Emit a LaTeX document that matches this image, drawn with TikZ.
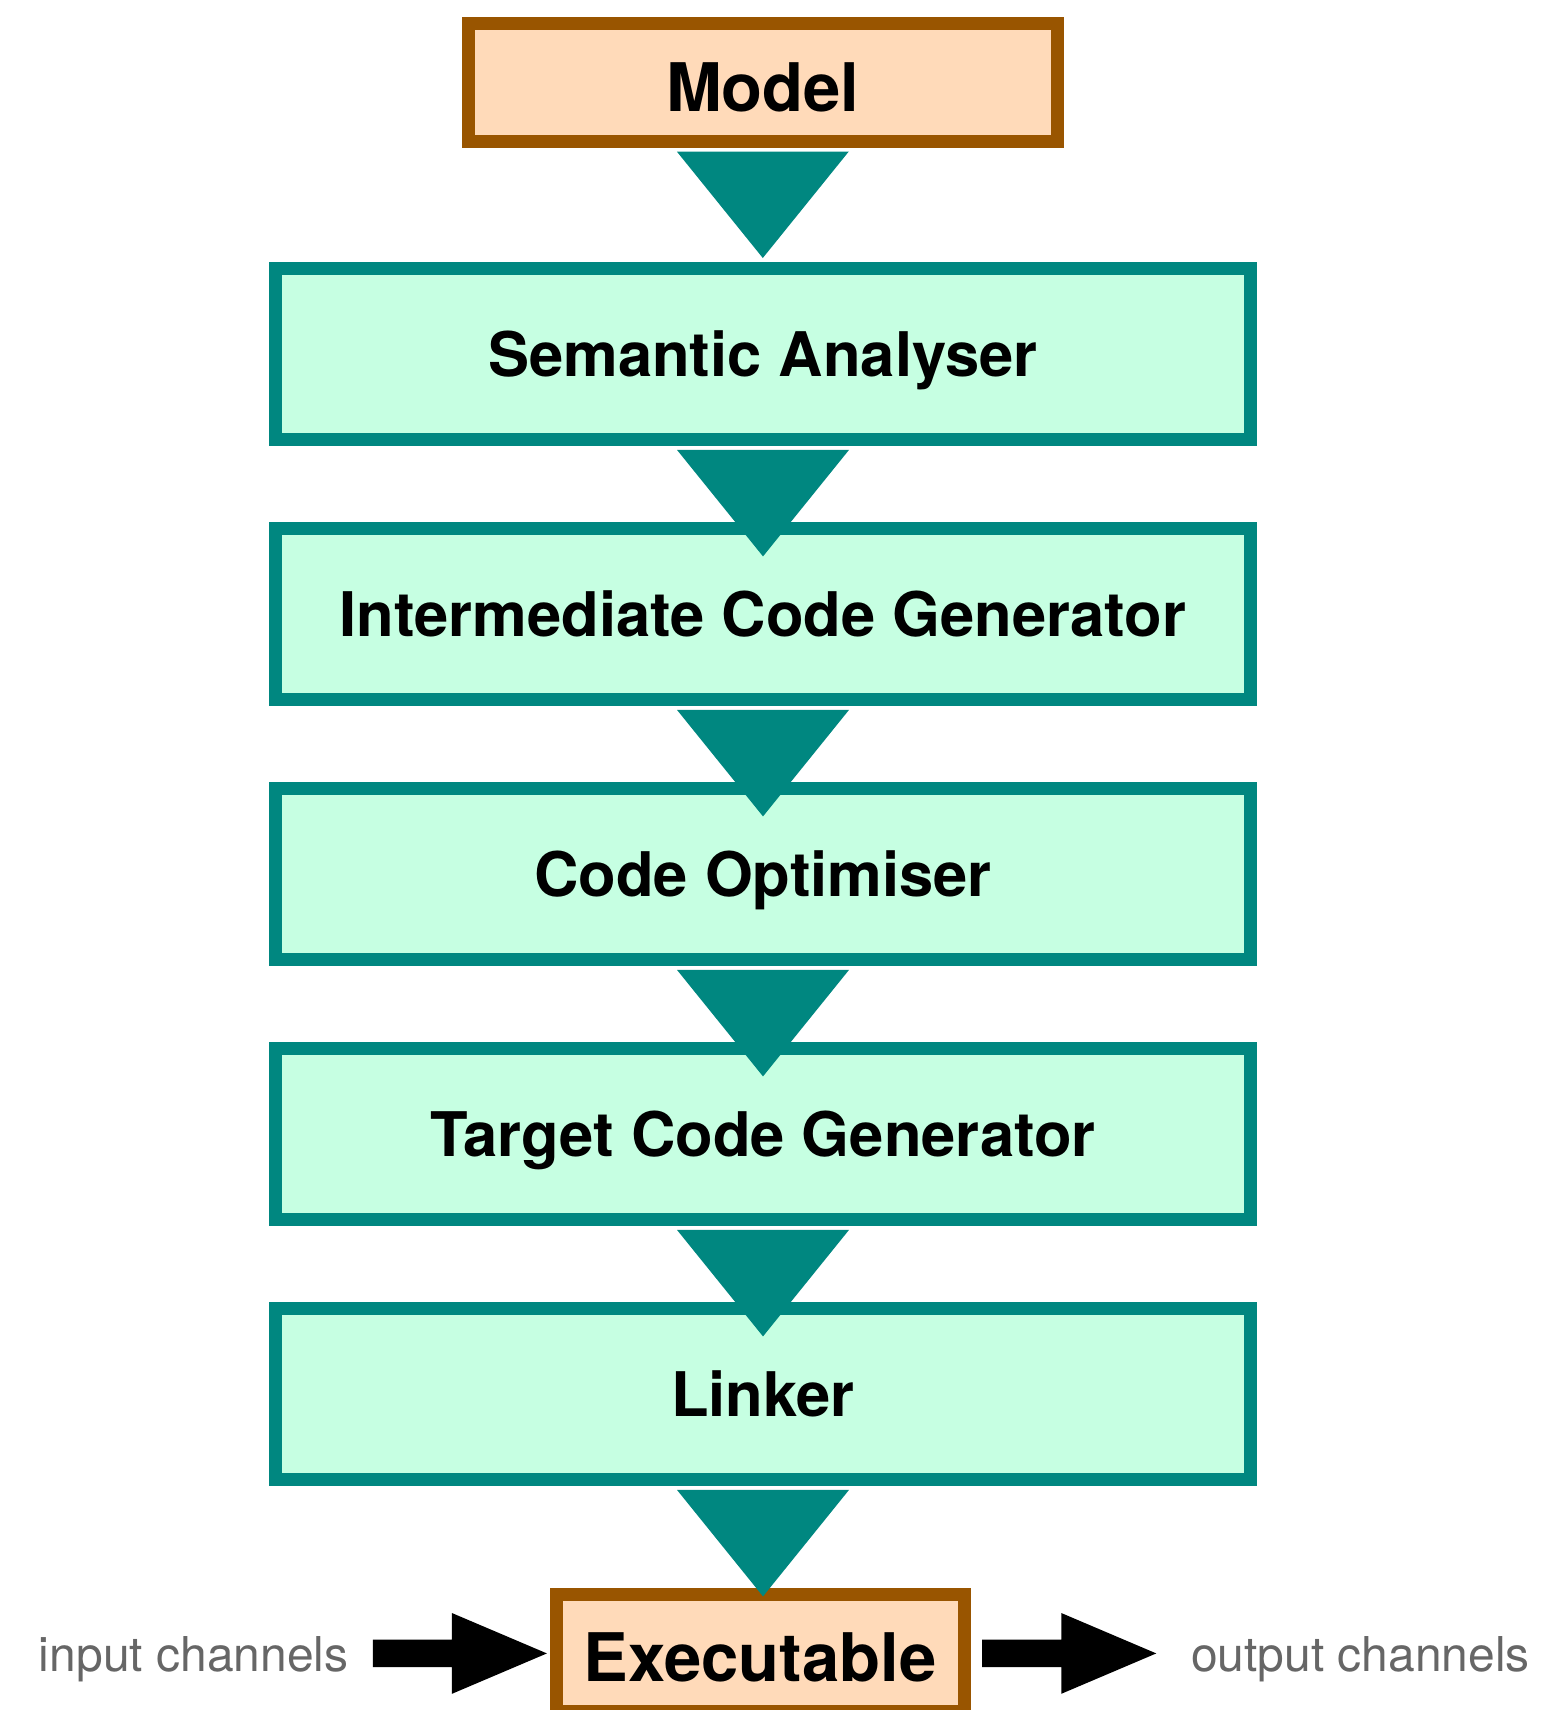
\documentclass[tikz,border=0pt]{standalone}
\usepackage{fontspec}
\setmainfont{TeX Gyre Heros}
\usetikzlibrary{calc}

\definecolor{tealc}{RGB}{0,135,128}
\definecolor{mint}{RGB}{198,255,226}
\definecolor{peach}{RGB}{255,218,185}
\definecolor{brownc}{RGB}{153,85,0}
\definecolor{labelgray}{RGB}{102,102,102}

\begin{document}
\begin{tikzpicture}[x=1pt, y=-1pt,
  stage/.style={draw=tealc, fill=mint, line width=13pt,
    minimum width=975pt, minimum height=171pt, inner sep=0pt,
    font=\bfseries\fontsize{61.5}{74}\selectfont, text height=46pt, text depth=0pt},
  terminal/.style={draw=brownc, fill=peach, line width=13pt,
    minimum height=117pt, inner sep=0pt,
    font=\bfseries\fontsize{67}{80}\selectfont, text height=57pt, text depth=0pt},
  chanlabel/.style={inner sep=0pt, anchor=base, text=labelgray,
    font=\fontsize{48}{58}\selectfont},
  % downward triangle hanging under the source box
  flowtri/.style={fill=tealc, to path={
    ($(\tikztostart.south)+(-86,4)$) -- ($(\tikztostart.south)+(86,4)$)
    -- ($(\tikztostart.south)+(0,110.5)$) -- cycle}},
  % thick block arrow between two points on one horizontal line
  blockarrow/.style={fill=black, to path={
    ($(\tikztostart)+(0,-13.7)$) -- ($(\tikztotarget)+(-95,-13.7)$)
    -- ($(\tikztotarget)+(-95,-40.4)$) -- (\tikztotarget)
    -- ($(\tikztotarget)+(-95,40.4)$) -- ($(\tikztotarget)+(-95,13.7)$)
    -- ($(\tikztostart)+(0,13.7)$) -- cycle}}
]
\useasboundingbox (0,0) rectangle (1543,1710);

\node[terminal, minimum width=589pt] (model) at (762.8,82.5) {Model};
\node[stage] (sem)    at (763,353.9)  {Semantic Analyser};
\node[stage] (inter)  at (763,613.9)  {Intermediate Code Generator};
\node[stage] (opt)    at (763,873.9)  {Code Optimiser};
\node[stage] (target) at (763,1133.9) {Target Code Generator};
\node[stage] (linker) at (763,1393.9) {Linker};
\node[terminal, minimum width=408pt] (exe) at (760,1653.4) {Executable};

\node[chanlabel] (in)  at (193.7,1671.7) {input channels};
\node[chanlabel] (out) at (1360.5,1671.7) {output channels};

\path[flowtri] (model)  to (sem);
\path[flowtri] (sem)    to (inter);
\path[flowtri] (inter)  to (opt);
\path[flowtri] (opt)    to (target);
\path[flowtri] (target) to (linker);
\path[flowtri] (linker) to (exe);

\path[blockarrow] ($(in.east |- exe.west)+(24,0)$) to ($(exe.west)+(-2.6,0)$);
\path[blockarrow] ($(exe.east)+(11.5,0)$) to ($(out.west |- exe.east)+(-34.6,0)$);
\end{tikzpicture}
\end{document}
